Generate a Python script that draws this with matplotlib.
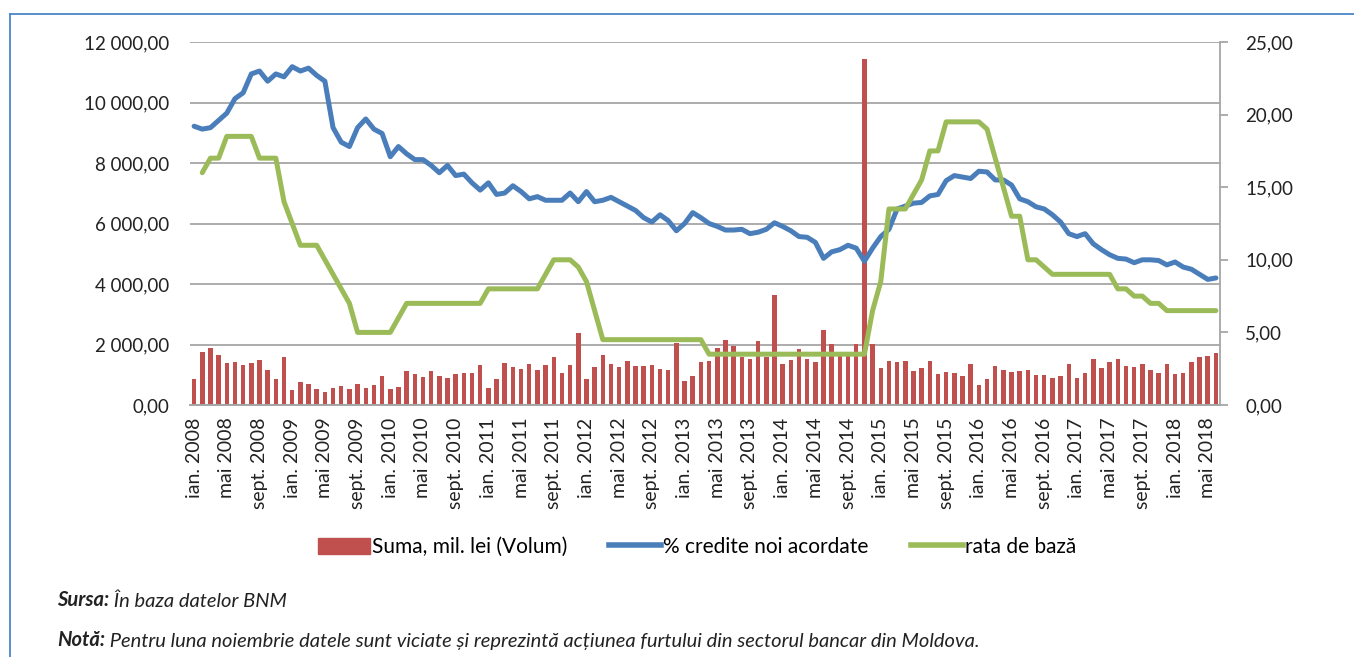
import matplotlib
matplotlib.use("Agg")
import matplotlib.pyplot as plt
from matplotlib.ticker import FuncFormatter
from matplotlib.lines import Line2D
import numpy as np

plt.rcParams['font.family'] = ['Lato', 'DejaVu Sans']

# luni: ian. 2008 - iun. 2018
luni = ['ian.', 'feb.', 'mar.', 'apr.', 'mai', 'iun.', 'iul.', 'aug.',
        'sept.', 'oct.', 'nov.', 'dec.']
ani = list(range(2008, 2019))
etichete = [f"{l} {a}" for a in ani for l in luni][:126]

# Suma, mil. lei (Volum)
suma = [862, 1757, 1890, 1657, 1392, 1436, 1337, 1403, 1503, 1160, 873, 1602,
        497, 773, 707, 541, 431, 575, 630, 541, 685, 575, 652, 950,
        530, 597, 1138, 1028, 928, 1127, 972, 895, 1039, 1061, 1061, 1326,
        575, 873, 1403, 1271, 1193, 1359, 1171, 1337, 1580, 1072, 1326, 2365,
        873, 1271, 1669, 1370, 1271, 1459, 1282, 1304, 1337, 1193, 1171, 2066,
        785, 961, 1425, 1459, 1890, 2155, 1934, 1600, 1525, 2122, 1600, 3650,
        1370, 1492, 1856, 1536, 1436, 2486, 2022, 1650, 1746, 2022, 11450, 2022,
        1227, 1470, 1436, 1459, 1127, 1227, 1470, 1028, 1083, 1072, 972, 1370,
        652, 873, 1304, 1160, 1094, 1127, 1171, 1006, 994, 895, 972, 1370,
        895, 1061, 1525, 1215, 1425, 1525, 1304, 1260, 1359, 1160, 1061, 1370,
        1028, 1072, 1436, 1580, 1624, 1724]

# % credite noi acordate
credite = [19.2, 19.0, 19.1, 19.6, 20.1, 21.1, 21.5, 22.8, 23.0, 22.3, 22.8, 22.6,
           23.3, 23.0, 23.2, 22.7, 22.3, 19.1, 18.1, 17.8, 19.1, 19.7, 19.0, 18.7,
           17.1, 17.8, 17.3, 16.9, 16.9, 16.5, 16.0, 16.5, 15.8, 15.9, 15.3, 14.8,
           15.3, 14.5, 14.6, 15.1, 14.7, 14.2, 14.35, 14.1, 14.1, 14.1, 14.6, 14.0,
           14.7, 14.0, 14.1, 14.3, 14.0, 13.7, 13.4, 12.9, 12.6, 13.1, 12.7, 12.0,
           12.5, 13.25, 12.9, 12.5, 12.3, 12.05, 12.05, 12.1, 11.8, 11.9, 12.1, 12.55,
           12.3, 12.0, 11.6, 11.55, 11.2, 10.1, 10.55, 10.7, 11.0, 10.8, 9.9, 10.8,
           11.6, 12.1, 13.5, 13.7, 13.9, 13.95, 14.4, 14.5, 15.45, 15.8, 15.7, 15.6,
           16.1, 16.05, 15.5, 15.5, 15.15, 14.2, 14.0, 13.65, 13.5, 13.1, 12.6, 11.8,
           11.6, 11.8, 11.1, 10.7, 10.35, 10.1, 10.05, 9.8, 10.0, 10.0, 9.95, 9.65,
           9.85, 9.5, 9.35, 9.0, 8.65, 8.75]

# rata de baza (lipseste pentru ian. 2008)
rata = [np.nan, 16, 17, 17, 18.5, 18.5, 18.5, 18.5, 17, 17, 17, 14,
        12.5, 11, 11, 11, 10, 9, 8, 7, 5, 5, 5, 5,
        5, 6, 7, 7, 7, 7, 7, 7, 7, 7, 7, 7,
        8, 8, 8, 8, 8, 8, 8, 9, 10, 10, 10, 9.5,
        8.5, 6.5, 4.5, 4.5, 4.5, 4.5, 4.5, 4.5, 4.5, 4.5, 4.5, 4.5,
        4.5, 4.5, 4.5, 3.5, 3.5, 3.5, 3.5, 3.5, 3.5, 3.5, 3.5, 3.5,
        3.5, 3.5, 3.5, 3.5, 3.5, 3.5, 3.5, 3.5, 3.5, 3.5, 3.5, 6.5,
        8.5, 13.5, 13.5, 13.5, 14.5, 15.5, 17.5, 17.5, 19.5, 19.5, 19.5, 19.5,
        19.5, 19, 17, 15, 13, 13, 10, 10, 9.5, 9, 9, 9,
        9, 9, 9, 9, 9, 8, 8, 7.5, 7.5, 7, 7, 6.5,
        6.5, 6.5, 6.5, 6.5, 6.5, 6.5]

red = '#c0504d'
blue = '#4a7ebb'
green = '#9bbb59'
grid = '#a6a6a6'
x = np.arange(len(suma))

fig = plt.figure(figsize=(13.54, 6.57), dpi=100)
ax = fig.add_axes([190 / 1354, 252 / 657, 1030 / 1354, 363 / 657])
ax2 = ax.twinx()

ax.bar(x, suma, width=0.55, color=red, zorder=2)
ax2.plot(x, credite, color=blue, lw=3.6, solid_joinstyle='round', solid_capstyle='round')
ax2.plot(x, rata, color=green, lw=3.6, solid_joinstyle='round', solid_capstyle='round')

ax.set_xlim(-0.5, len(suma) - 0.5)
ax.set_ylim(0, 12000)
ax2.set_ylim(0, 25)
ax.set_yticks(np.arange(0, 12001, 2000))
ax2.set_yticks(np.arange(0, 25.01, 5))

ax.yaxis.set_major_formatter(FuncFormatter(lambda v, p: f"{v:,.2f}".replace(',', ' ').replace('.', ',')))
ax2.yaxis.set_major_formatter(FuncFormatter(lambda v, p: f"{v:.2f}".replace('.', ',')))

ax.set_xticks(x[::4])
ax.set_xticklabels(etichete[::4], rotation=90, va='top', ha='center')

ax.grid(axis='y', color=grid, lw=1.3, zorder=0)
ax.set_axisbelow(True)

for a in (ax, ax2):
    for s in ('top', 'left'):
        a.spines[s].set_visible(False)
    a.spines['bottom'].set_color(grid)
    a.spines['bottom'].set_linewidth(1.3)
    a.spines['right'].set_visible(False)
ax2.spines['right'].set_visible(True)
ax2.spines['right'].set_color(grid)
ax2.spines['right'].set_linewidth(1.3)

ax.tick_params(axis='x', length=0, pad=9, labelsize=14, colors='#222222')
ax.tick_params(axis='y', length=0, pad=15, labelsize=13.5, colors='#222222')
ax2.tick_params(axis='y', length=6, width=1.3, color=grid, pad=12, labelsize=13.5, labelcolor='#222222')

handles = [plt.Rectangle((0, 0), 1, 1, color=red),
           Line2D([], [], color=blue, lw=4),
           Line2D([], [], color=green, lw=4)]
fig.legend(handles, ['Suma, mil. lei (Volum)', '% credite noi acordate', 'rata de bază'],
           loc='center', bbox_to_anchor=(697 / 1354, 1 - 547 / 657), ncol=3, frameon=False,
           fontsize=15, handlelength=2.5, handletextpad=0.1, columnspacing=2.0,
           handleheight=0.8)

# chenar
fig.add_artist(Line2D([10 / 1354, 10 / 1354], [0, 1 - 14 / 657], color='#4a86c8', lw=1.3))
fig.add_artist(Line2D([10 / 1354, 1], [1 - 14 / 657, 1 - 14 / 657], color='#4a86c8', lw=1.3))

t1 = fig.text(57 / 1354, 1 - 600 / 657, 'Sursa:', fontsize=14.5, fontweight='bold', style='italic',
              va='center', color='#222222')
ax.annotate(' În baza datelor BNM', xy=(1, 0), xycoords=t1, va='bottom', ha='left',
            fontsize=14.5, style='italic', color='#222222', annotation_clip=False)
t2 = fig.text(57 / 1354, 1 - 640 / 657, 'Notă:', fontsize=14.5, fontweight='bold', style='italic',
              va='center', color='#222222')
ax.annotate(' Pentru luna noiembrie datele sunt viciate și reprezintă acțiunea furtului din sectorul bancar din Moldova.',
            xy=(1, 0), xycoords=t2, va='bottom', ha='left',
            fontsize=14.5, style='italic', color='#222222', annotation_clip=False)

fig.savefig('out.png', dpi=100)
